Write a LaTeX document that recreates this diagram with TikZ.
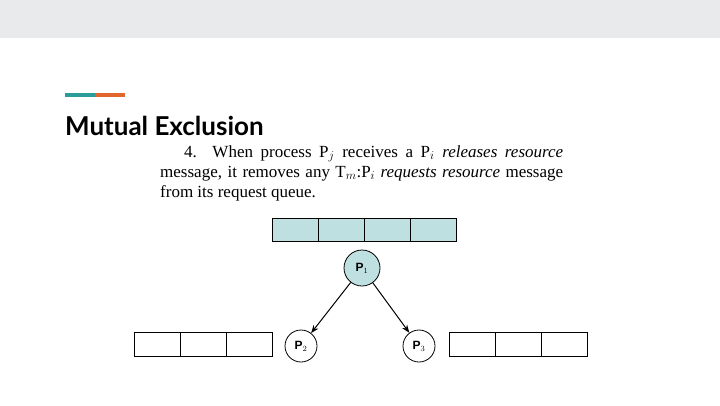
\documentclass[tikz,border=0pt]{standalone}
\usepackage{fontspec}
\setmainfont{Liberation Serif}
\newfontfamily\titlefont{Lato}
\setsansfont{Liberation Sans}
\usetikzlibrary{arrows.meta}
\definecolor{barGray}{HTML}{E8EAEC}
\definecolor{accTeal}{HTML}{2A9D9A}
\definecolor{accOrange}{HTML}{E0662A}
\definecolor{queueFill}{HTML}{BFE0E0}
\tikzset{
  cellbox/.style={draw, line width=1pt, minimum width=46pt, minimum height=24pt, inner sep=0pt},
  procnode/.style={draw, circle, line width=0.8pt, minimum size=32pt, inner sep=0pt, font=\sffamily\bfseries\fontsize{12}{14}\selectfont},
  msgarrow/.style={-{Stealth[length=8pt]}, line width=1pt}
}
\begin{document}
\begin{tikzpicture}[x=1pt, y=-1pt]
    \useasboundingbox (0,0) rectangle (720,405);
    \fill[barGray] (0,0) rectangle (720,38);
    \draw[accTeal, line width=4pt] (65,95) -- (95,95);
    \draw[accOrange, line width=4pt] (95,95) -- (125,95);
    \node[anchor=base west, inner sep=0pt, font=\titlefont\bfseries\fontsize{26}{28}\selectfont] (title) at (65,135) {Mutual Exclusion};

    \node[anchor=north west, inner sep=0pt, text width=403pt, align=justify, font=\fontsize{17}{20}\selectfont] (rule) at (160,145)
      {\hspace*{1.4em}4. When process P$_j$ receives a P$_i$ \textit{releases resource}\linebreak message, it removes any T$_m$:P$_i$ \textit{requests resource} message\linebreak from its request queue.};

    % queue of P1
    \foreach \i in {0,...,3}
      \node[cellbox, fill=queueFill, minimum height=23pt] (qa\i) at (295+46*\i,229.5) {};
    % queue of P2
    \foreach \i in {0,...,2}
      \node[cellbox] (qb\i) at (157+46*\i,344.5) {};
    % queue of P3
    \foreach \i in {0,...,2}
      \node[cellbox] (qc\i) at (472+46*\i,344.5) {};

    \node[procnode, fill=queueFill, minimum size=36pt] (p1) at (362,268) {P$_1$};
    \node[procnode] (p2) at (301,346) {P$_2$};
    \node[procnode] (p3) at (419,346) {P$_3$};

    \draw[msgarrow] (p1) -- (p2);
    \draw[msgarrow] (p1) -- (p3);
\end{tikzpicture}
\end{document}
